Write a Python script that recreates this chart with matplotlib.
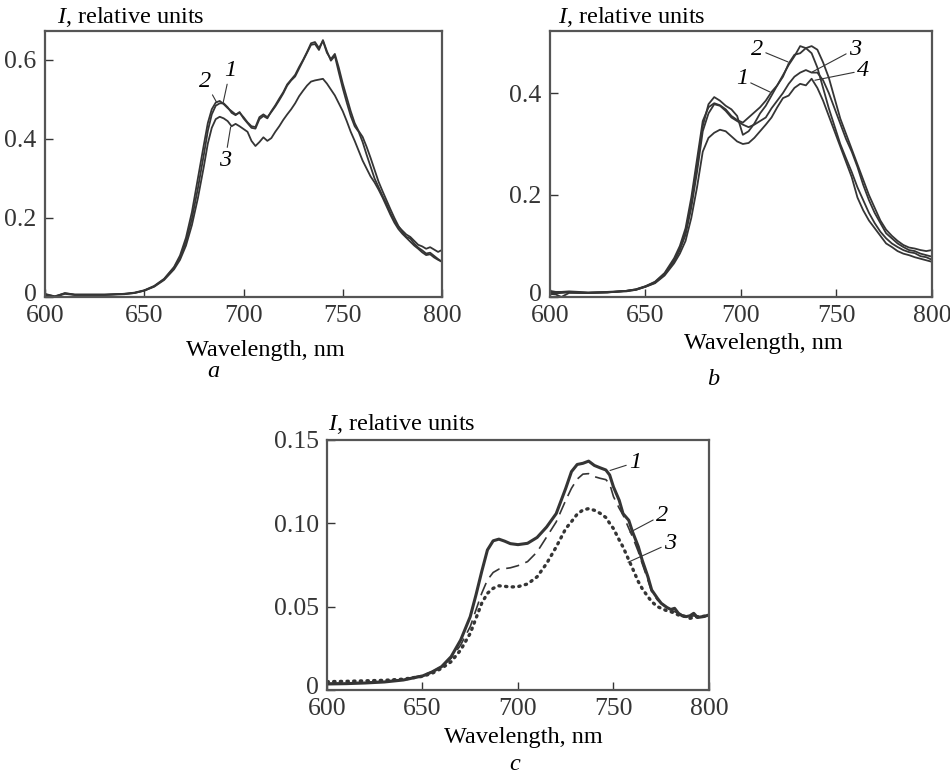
import matplotlib
matplotlib.use("Agg")
import matplotlib.pyplot as plt
import matplotlib.transforms as mtransforms

plt.rcParams["font.family"] = ["Liberation Serif", "DejaVu Serif"]
plt.rcParams["mathtext.fontset"] = "custom"
plt.rcParams["mathtext.rm"] = "Liberation Serif"
plt.rcParams["mathtext.it"] = "Liberation Serif:italic"

# panel a
wl_a = [600, 605, 610, 615, 620, 630, 640, 645, 650, 655, 660, 665, 668, 671, 674, 677,
        680, 682, 684, 686, 688, 690, 692, 694, 696, 698, 700, 702, 704, 706, 708, 710,
        712, 714, 716, 718, 720, 722, 724, 726, 728, 730, 732, 734, 736, 738, 740, 742,
        744, 746, 748, 750, 752, 754, 756, 758, 760, 762, 764, 766, 768, 770, 772, 774,
        776, 778, 780, 782, 784, 786, 788, 790, 792, 794, 796, 798, 800]
a1 = [0.004, 0.000, 0.008, 0.005, 0.005, 0.005, 0.007, 0.010, 0.016, 0.027, 0.045, 0.074,
      0.100, 0.140, 0.198, 0.275,
      0.360, 0.420, 0.462, 0.484, 0.490, 0.490, 0.480, 0.466, 0.460, 0.468, 0.452, 0.440,
      0.428, 0.426, 0.450, 0.458, 0.452, 0.470, 0.485, 0.502, 0.518, 0.538, 0.550, 0.562,
      0.582, 0.600, 0.620, 0.642, 0.645, 0.630, 0.648, 0.618, 0.602, 0.615, 0.580, 0.540,
      0.505, 0.470, 0.440, 0.420, 0.405, 0.380, 0.352, 0.322, 0.292, 0.268, 0.245, 0.222,
      0.200, 0.180, 0.165, 0.152, 0.148, 0.135, 0.125, 0.118, 0.110, 0.112, 0.104, 0.096,
      0.089]
a2 = [0.008, 0.001, 0.010, 0.006, 0.006, 0.006, 0.008, 0.011, 0.017, 0.028, 0.046, 0.076,
      0.105, 0.150, 0.215, 0.300,
      0.385, 0.440, 0.475, 0.492, 0.496, 0.488, 0.478, 0.470, 0.462, 0.466, 0.455, 0.442,
      0.432, 0.430, 0.455, 0.462, 0.455, 0.468, 0.482, 0.498, 0.515, 0.535, 0.548, 0.558,
      0.578, 0.598, 0.618, 0.638, 0.640, 0.625, 0.650, 0.622, 0.598, 0.610, 0.568, 0.528,
      0.492, 0.458, 0.432, 0.418, 0.392, 0.360, 0.330, 0.300, 0.278, 0.256, 0.236, 0.212,
      0.192, 0.178, 0.168, 0.158, 0.152, 0.142, 0.132, 0.128, 0.122, 0.126, 0.120, 0.114,
      0.119]
a3 = [0.006, 0.002, 0.009, 0.006, 0.006, 0.006, 0.008, 0.010, 0.016, 0.026, 0.043, 0.070,
      0.094, 0.130, 0.182, 0.250,
      0.330, 0.388, 0.428, 0.450, 0.456, 0.452, 0.445, 0.432, 0.438, 0.432, 0.425, 0.418,
      0.395, 0.382, 0.392, 0.404, 0.395, 0.402, 0.418, 0.432, 0.448, 0.462, 0.475, 0.490,
      0.508, 0.522, 0.535, 0.545, 0.548, 0.550, 0.552, 0.540, 0.525, 0.510, 0.490, 0.470,
      0.445, 0.418, 0.395, 0.370, 0.345, 0.325, 0.305, 0.290, 0.272, 0.252, 0.230, 0.208,
      0.188, 0.172, 0.160, 0.150, 0.140, 0.130, 0.122, 0.113, 0.106, 0.108, 0.100, 0.094,
      0.089]

# panel b
wl_b = [600, 603, 606, 610, 615, 620, 630, 640, 645, 650, 655, 660, 665, 668, 671, 674, 677,
        680, 683, 686, 689, 692, 695, 698, 701, 704, 707, 710, 713, 716, 719, 722, 725,
        728, 731, 734, 737, 740, 743, 746, 749, 752, 755, 758, 761, 764, 767, 770, 773,
        776, 779, 782, 785, 788, 791, 794, 797, 800]
b1 = [0.010, 0.008, 0.009, 0.010, 0.009, 0.008, 0.009, 0.012, 0.015, 0.021, 0.030, 0.047,
      0.076, 0.100, 0.135, 0.195, 0.270,
      0.345, 0.372, 0.380, 0.376, 0.368, 0.355, 0.347, 0.342, 0.352, 0.362, 0.372, 0.385,
      0.402, 0.415, 0.435, 0.455, 0.472, 0.492, 0.488, 0.478, 0.450, 0.410, 0.370, 0.335,
      0.300, 0.272, 0.245, 0.215, 0.190, 0.165, 0.145, 0.128, 0.115, 0.105, 0.098, 0.092,
      0.088, 0.086, 0.080, 0.078, 0.073]
b2 = [0.006, 0.005, 0.000, 0.008, 0.008, 0.008, 0.009, 0.012, 0.015, 0.021, 0.029, 0.045,
      0.072, 0.095, 0.128, 0.185, 0.260,
      0.335, 0.378, 0.392, 0.385, 0.375, 0.368, 0.355, 0.318, 0.325, 0.340, 0.360, 0.375,
      0.395, 0.415, 0.432, 0.458, 0.475, 0.478, 0.488, 0.492, 0.485, 0.460, 0.430, 0.390,
      0.350, 0.320, 0.290, 0.260, 0.230, 0.200, 0.175, 0.150, 0.132, 0.120, 0.110, 0.102,
      0.097, 0.095, 0.092, 0.090, 0.092]
b3 = [0.008, 0.007, 0.008, 0.009, 0.008, 0.008, 0.009, 0.011, 0.014, 0.020, 0.028, 0.044,
      0.070, 0.092, 0.122, 0.175, 0.245,
      0.325, 0.360, 0.378, 0.375, 0.365, 0.352, 0.345, 0.338, 0.333, 0.338, 0.345, 0.352,
      0.370, 0.385, 0.400, 0.418, 0.432, 0.440, 0.445, 0.440, 0.440, 0.425, 0.400, 0.370,
      0.340, 0.310, 0.285, 0.255, 0.220, 0.190, 0.165, 0.145, 0.125, 0.115, 0.105, 0.098,
      0.092, 0.090, 0.085, 0.082, 0.079]
b4 = [0.012, 0.010, 0.010, 0.011, 0.010, 0.009, 0.010, 0.012, 0.014, 0.020, 0.027, 0.042,
      0.066, 0.085, 0.110, 0.155, 0.215,
      0.285, 0.312, 0.322, 0.328, 0.325, 0.315, 0.305, 0.300, 0.302, 0.312, 0.325, 0.338,
      0.352, 0.372, 0.390, 0.395, 0.410, 0.418, 0.415, 0.428, 0.410, 0.385, 0.355, 0.325,
      0.295, 0.265, 0.235, 0.195, 0.170, 0.150, 0.135, 0.120, 0.105, 0.098, 0.090, 0.085,
      0.082, 0.078, 0.075, 0.072, 0.069]

# panel c
wl_c = [600, 610, 620, 630, 640, 650, 655, 660, 665, 670, 675, 678, 681, 684, 687, 690,
        693, 696, 700, 705, 710, 715, 720, 725, 728, 731, 734, 737, 740, 743, 746, 748,
        750, 753, 755, 758, 760, 763, 765, 768, 770, 773, 775, 778, 780, 782, 784, 786,
        788, 790, 792, 794, 797, 800]
c1 = [0.0036, 0.0038, 0.0042, 0.0048, 0.0060, 0.0084, 0.0108, 0.0140, 0.020, 0.030, 0.044,
      0.057, 0.071, 0.084, 0.0895, 0.0905, 0.0893, 0.0878, 0.0872, 0.0880, 0.0915, 0.0978,
      0.1058, 0.121, 0.131, 0.1353, 0.136, 0.1373, 0.1347, 0.1333, 0.132, 0.129, 0.1218,
      0.1138, 0.1058, 0.1018, 0.0948, 0.086, 0.078, 0.068, 0.060, 0.055, 0.052, 0.0495,
      0.0483, 0.049, 0.046, 0.0445, 0.044, 0.0445, 0.046, 0.0435, 0.044, 0.045]
c2 = [0.0040, 0.0042, 0.0046, 0.0052, 0.0064, 0.0088, 0.011, 0.014, 0.019, 0.027, 0.038,
      0.048, 0.058, 0.066, 0.0705, 0.0725, 0.0728, 0.0733, 0.0746, 0.077, 0.0828, 0.0918,
      0.1008, 0.1138, 0.121, 0.1265, 0.1295, 0.1298, 0.128, 0.127, 0.1262, 0.1237, 0.116,
      0.109, 0.105, 0.097, 0.0918, 0.083, 0.076, 0.066, 0.059, 0.054, 0.052, 0.0495,
      0.048, 0.047, 0.046, 0.045, 0.0445, 0.044, 0.0445, 0.044, 0.044, 0.045]
c3 = [0.0050, 0.0052, 0.0055, 0.0058, 0.0065, 0.0082, 0.010, 0.013, 0.017, 0.024, 0.034,
      0.043, 0.052, 0.058, 0.061, 0.0625, 0.0622, 0.0618, 0.0620, 0.0636, 0.0679, 0.0759,
      0.0858, 0.0968, 0.101, 0.1055, 0.108, 0.1088, 0.1078, 0.106, 0.1035, 0.100, 0.0968,
      0.090, 0.0858, 0.078, 0.0729, 0.065, 0.0609, 0.056, 0.053, 0.050, 0.049, 0.0475,
      0.047, 0.046, 0.045, 0.0445, 0.044, 0.043, 0.0435, 0.044, 0.0442, 0.0445]

x_ticks = [600, 650, 700, 750, 800]
ink = "#353535"
fs = 17.5
tick_fs = 18.5


def style_axes(ax, ylim, yticks, ylabels, ylab_pos=(0.03, 1.03)):
    ax.set_xlim(600, 800)
    ax.set_ylim(*ylim)
    ax.set_xticks(x_ticks)
    ax.set_yticks(yticks)
    ax.set_yticklabels(ylabels)
    ax.tick_params(direction="in", length=6, width=1, colors=ink, labelsize=tick_fs,
                   top=False, right=False)
    ax.tick_params(axis="y", pad=6)
    ax.tick_params(axis="x", pad=6)
    for s in ax.spines.values():
        s.set_color("#555555")
        s.set_linewidth(1.6)
    # lift the "0" label a little off the corner, as in the figure
    zero = ax.get_yticklabels()[0]
    zero.set_transform(zero.get_transform() +
                       mtransforms.ScaledTranslation(0, 4 / 100, fig.dpi_scale_trans))
    ax.text(ylab_pos[0], ylab_pos[1], r"$I$, relative units", transform=ax.transAxes,
            fontsize=fs, va="baseline", ha="left")


def label(ax, txt, xy, xytext):
    ax.annotate(txt, xy=xy, xytext=xytext, fontsize=fs, style="italic",
                ha="center", va="center",
                arrowprops=dict(arrowstyle="-", color=ink, lw=0.8,
                                shrinkA=0, shrinkB=0))


fig = plt.figure(figsize=(9.5, 7.75), dpi=100)
ax_a = fig.add_axes([0.0474, 0.6168, 0.4179, 0.3432])
ax_b = fig.add_axes([0.5789, 0.6168, 0.4021, 0.3432])
ax_c = fig.add_axes([0.3442, 0.1097, 0.4021, 0.3226])

for y in (a1, a2, a3):
    ax_a.plot(wl_a, y, color=ink, lw=1.3)
style_axes(ax_a, (0, 0.673), [0, 0.2, 0.4, 0.6], ["0", "0.2", "0.4", "0.6"])
label(ax_a, "2", (686.5, 0.492), (680.6, 0.545))
label(ax_a, "1", (689.7, 0.491), (693.2, 0.572))
label(ax_a, "3", (693.5, 0.430), (690.7, 0.345))
ax_a.text(0.554, -0.222, "Wavelength, nm", transform=ax_a.transAxes,
          fontsize=fs, ha="center", va="baseline")

for y in (b1, b2, b3, b4):
    ax_b.plot(wl_b, y, color=ink, lw=1.3)
style_axes(ax_b, (0, 0.5216), [0, 0.2, 0.4], ["0", "0.2", "0.4"], (0.021, 1.031))
label(ax_b, "2", (724.6, 0.461), (708.4, 0.486))
label(ax_b, "1", (715.2, 0.402), (700.5, 0.428))
label(ax_b, "3", (737.2, 0.441), (759.7, 0.486))
label(ax_b, "4", (738.7, 0.425), (763.9, 0.444))
ax_b.text(0.560, -0.195, "Wavelength, nm", transform=ax_b.transAxes,
          fontsize=fs, ha="center", va="baseline")

ax_c.plot(wl_c, c1, color=ink, lw=2.2)
ax_c.plot(wl_c, c2, color=ink, lw=1.2, linestyle=(0, (8, 4)))
ax_c.plot(wl_c, c3, color=ink, lw=2.4, linestyle=(0, (0.4, 1.6)),
          dash_capstyle="round")
style_axes(ax_c, (0, 0.15), [0, 0.05, 0.10, 0.15], ["0", "0.05", "0.10", "0.15"],
           (0.003, 1.04))
label(ax_c, "1", (748.2, 0.1317), (761.3, 0.1365))
label(ax_c, "2", (758.6, 0.0946), (775.4, 0.1048))
label(ax_c, "3", (757.6, 0.0766), (779.6, 0.088))
ax_c.text(0.513, -0.212, "Wavelength, nm", transform=ax_c.transAxes,
          fontsize=fs, ha="center", va="baseline")

fig.text(213 / 950, 1 - 377 / 775, "a", fontsize=fs, style="italic", ha="center", va="baseline")
fig.text(713 / 950, 1 - 385 / 775, "b", fontsize=fs, style="italic", ha="center", va="baseline")
fig.text(515 / 950, 1 - 770 / 775, "c", fontsize=fs, style="italic", ha="center", va="baseline")

fig.savefig("out.png", dpi=100)
